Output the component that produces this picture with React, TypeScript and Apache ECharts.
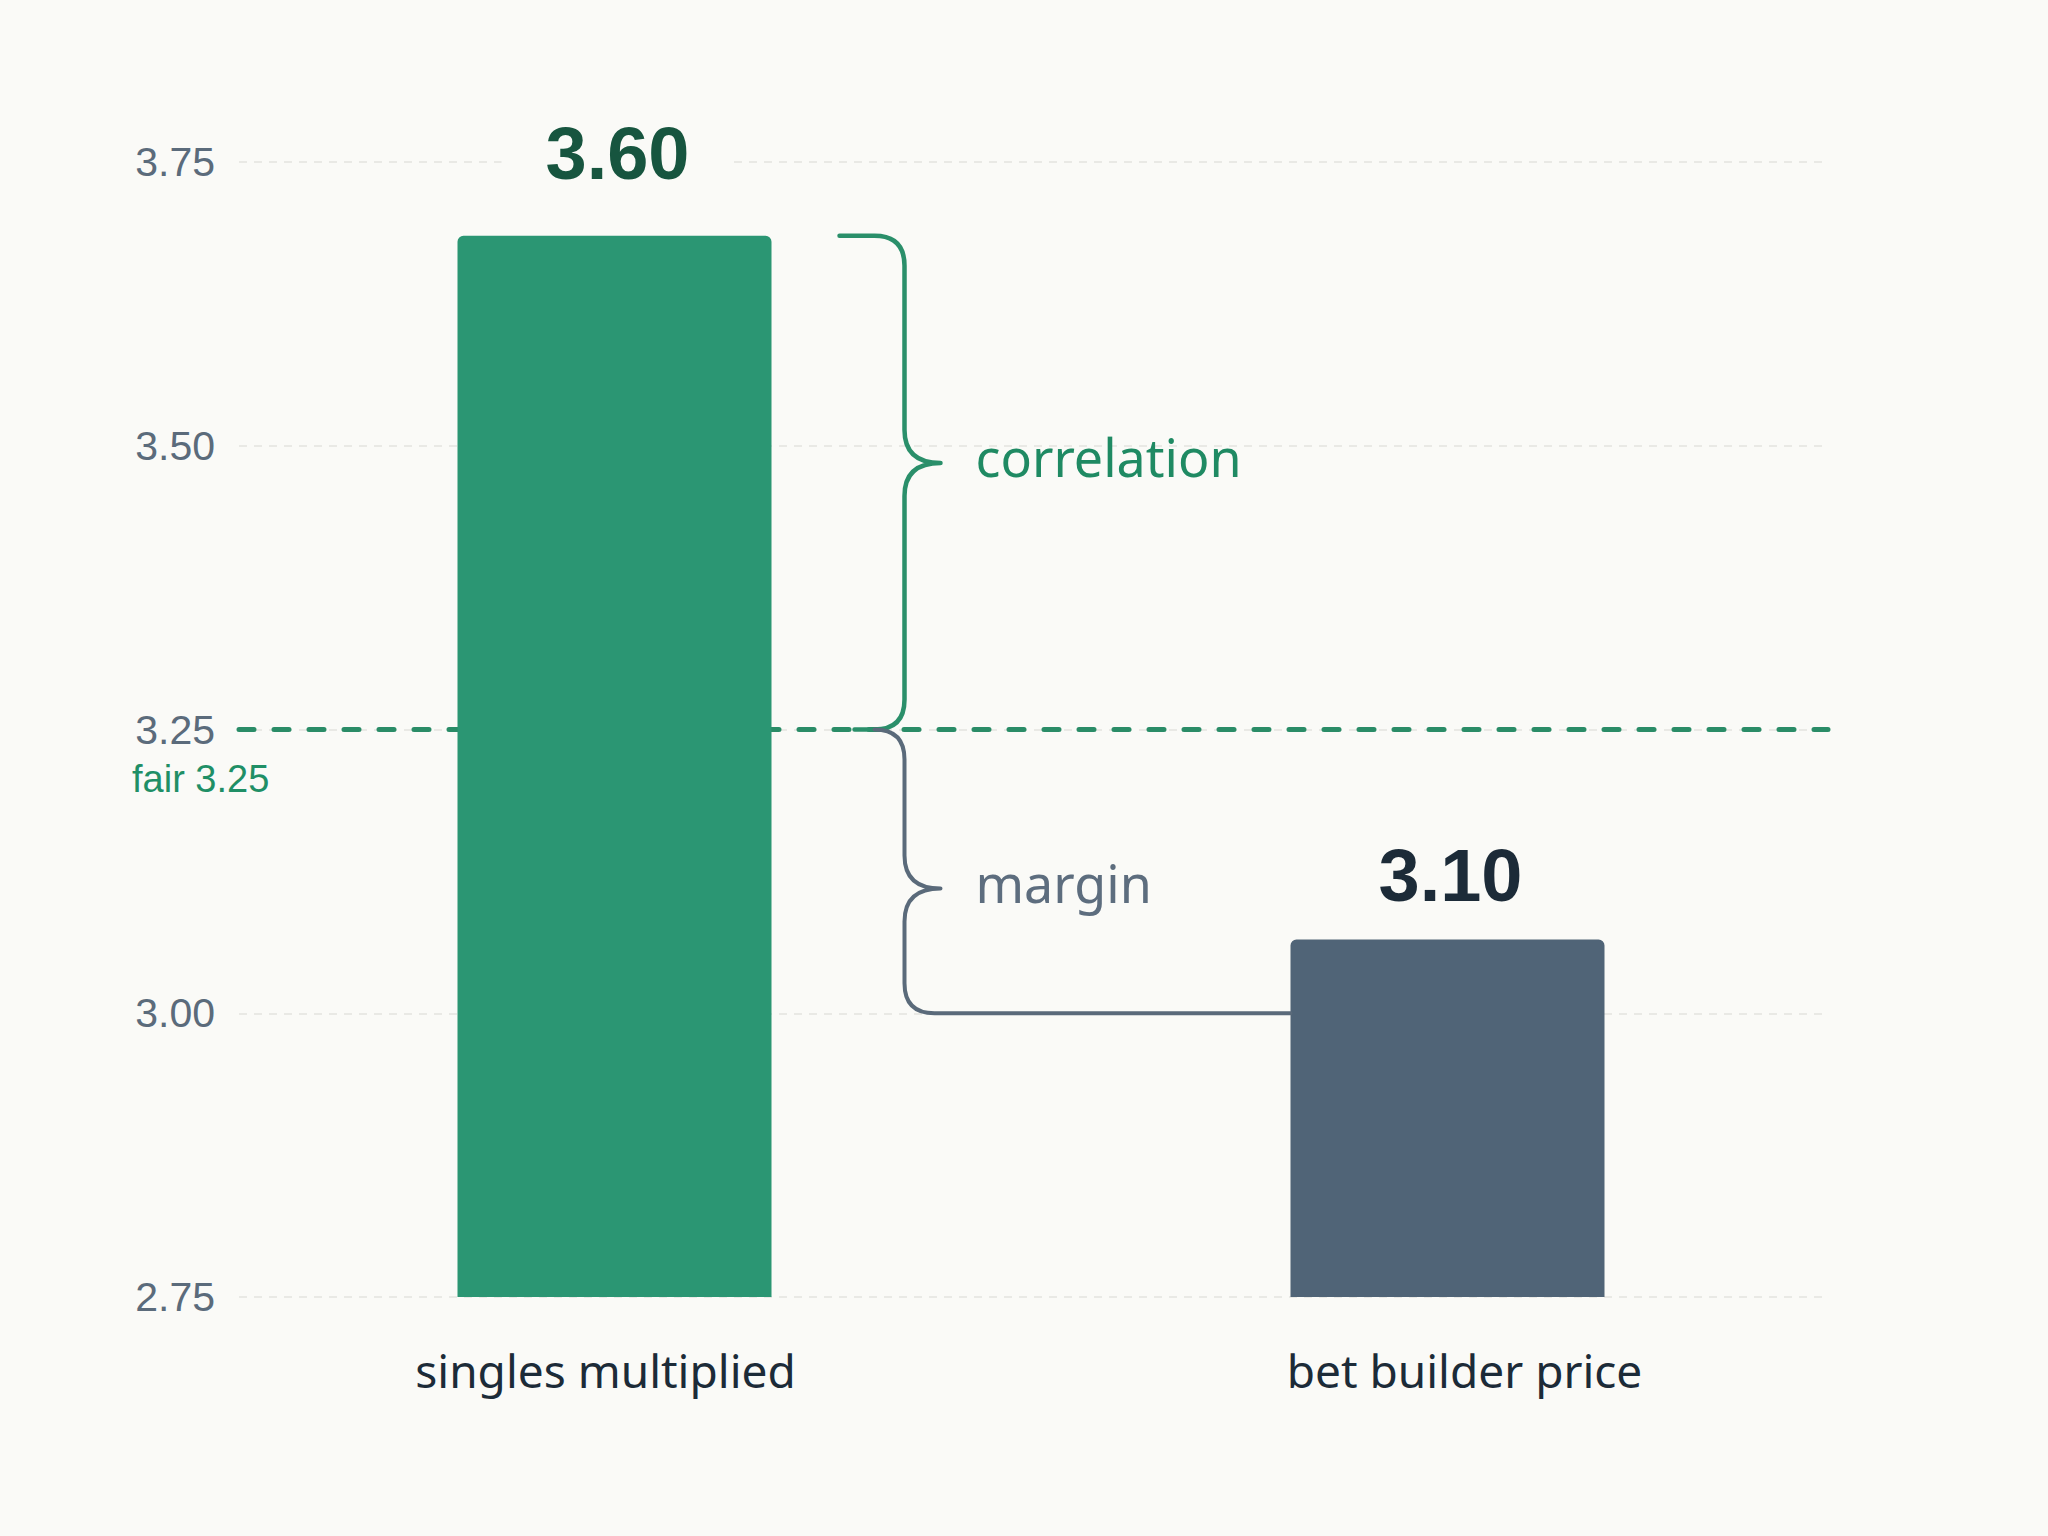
import React, { useEffect, useRef } from 'react';
import * as echarts from 'echarts';

// categories and values
const categories = ['singles multiplied', 'bet builder price'];
// bar heights as drawn (the printed labels differ slightly from the drawn heights)
const barValues = [3.685, 3.065];
const valueLabels = ['3.60', '3.10'];
const barColors = ['#2b9673', '#506477'];
const labelColors = ['#17553f', '#1c2b38'];
const labelDistances = [43, 25];
// small horizontal nudges of the category labels (left, right padding)
const catPadding = [
  [0, 18, 0, 0],
  [0, 0, 0, 34],
];

const yMin = 2.75;
const yMax = 3.75;
const yStep = 0.25;

const fairValue = 3.25;
const fairLabel = 'fair 3.25';
const marginFloor = 3.0;

const BG = '#fafaf7';
const BAR_W = 314;

const App: React.FC = () => {
  const chartRef = useRef<HTMLDivElement>(null);

  useEffect(() => {
    if (!chartRef.current) return;
    const chart = echarts.init(chartRef.current, null, { renderer: 'svg' });

    const option = {
      animation: false,
      backgroundColor: BG,
      grid: [
        { left: 239, right: 220, top: 162, bottom: 239 },
        { left: 198, right: 184, top: 162, bottom: 239 },
      ],
      xAxis: [
        { type: 'category', gridIndex: 0, data: categories, show: false },
        {
          type: 'category',
          gridIndex: 1,
          data: categories.map((c, i) => ({
            value: c,
            textStyle: { padding: catPadding[i] },
          })),
          axisLine: { show: false },
          axisTick: { show: false },
          axisLabel: {
            margin: 50,
            fontSize: 46,
            fontFamily: 'Noto Sans',
            color: '#1c2b38',
          },
        },
      ],
      yAxis: [
        {
          type: 'value',
          gridIndex: 0,
          min: yMin,
          max: yMax,
          interval: yStep,
          axisLine: { show: false },
          axisTick: { show: false },
          axisLabel: {
            margin: 24,
            fontSize: 41,
            fontFamily: 'Liberation Sans',
            color: '#5b6b7b',
            formatter: (v: number) => v.toFixed(2),
          },
          splitLine: {
            lineStyle: { color: '#e3e3df', width: 1.5, type: [8, 7] },
          },
        },
        {
          type: 'value',
          gridIndex: 1,
          min: yMin,
          max: yMax,
          interval: yStep,
          show: false,
          splitLine: { show: false },
        },
      ],
      series: [
        {
          type: 'line',
          xAxisIndex: 0,
          yAxisIndex: 0,
          data: [],
          z: 1,
          markLine: {
            z: 1,
            silent: true,
            symbol: ['none', 'none'],
            label: { show: false },
            lineStyle: { color: '#2a8c67', width: 5, type: [15, 20], cap: 'round' },
            data: [{ yAxis: fairValue }],
          },
        },
        {
          type: 'bar',
          xAxisIndex: 1,
          yAxisIndex: 1,
          z: 3,
          barWidth: BAR_W,
          data: barValues.map((v, i) => ({
            value: v,
            itemStyle: { color: barColors[i], borderRadius: [6, 6, 0, 0] },
            label: {
              show: true,
              position: 'top',
              distance: labelDistances[i],
              formatter: valueLabels[i],
              fontSize: 74,
              fontWeight: 'bold',
              fontFamily: 'Liberation Sans',
              color: labelColors[i],
              backgroundColor: BG,
              padding: [2, 38, 2, 44],
            },
          })),
        },
      ],
    };
    chart.setOption(option);

    const toPx = (cat: string, v: number) =>
      chart.convertToPixel({ gridIndex: 1 }, [cat, v]) as number[];
    const [x0, yBar1] = toPx(categories[0], barValues[0]);
    const [x1] = toPx(categories[1], barValues[1]);
    const yFair = toPx(categories[0], fairValue)[1];
    const yFloor = toPx(categories[0], marginFloor)[1];

    const barRight = x0 + BAR_W / 2;
    const bar2Left = x1 - BAR_W / 2;
    const spine = barRight + 133;
    const tipX = spine + 36;
    const r = 30;
    const t = 33;

    const corrTip = yBar1 + 0.46 * (yFair - yBar1);
    const corrPath =
      `M ${barRight + 68} ${yBar1} L ${spine - r} ${yBar1} ` +
      `Q ${spine} ${yBar1} ${spine} ${yBar1 + r} L ${spine} ${corrTip - t} ` +
      `Q ${spine} ${corrTip} ${tipX} ${corrTip} Q ${spine} ${corrTip} ${spine} ${corrTip + t} ` +
      `L ${spine} ${yFair - r} Q ${spine} ${yFair} ${spine - r} ${yFair} L ${spine - 50} ${yFair}`;

    const marTip = yFair + 0.56 * (yFloor - yFair);
    const marPath =
      `M ${spine - r} ${yFair} Q ${spine} ${yFair} ${spine} ${yFair + r} ` +
      `L ${spine} ${marTip - t} Q ${spine} ${marTip} ${tipX} ${marTip} ` +
      `Q ${spine} ${marTip} ${spine} ${marTip + t} L ${spine} ${yFloor - r} ` +
      `Q ${spine} ${yFloor} ${spine + r} ${yFloor} L ${bar2Left} ${yFloor}`;

    echarts.graphic.registerShape('corrBrace', echarts.graphic.extendPath(corrPath, {}));
    echarts.graphic.registerShape('marginBrace', echarts.graphic.extendPath(marPath, {}));

    chart.setOption({
      graphic: [
        {
          type: 'corrBrace',
          x: 0,
          y: 0,
          z: 10,
          style: { stroke: '#2a8f6a', lineWidth: 4.5, fill: 'none', lineCap: 'round', lineJoin: 'round' },
        },
        {
          type: 'marginBrace',
          x: 0,
          y: 0,
          z: 10,
          style: { stroke: '#5a6a7a', lineWidth: 4, fill: 'none', lineCap: 'round', lineJoin: 'round' },
        },
        {
          type: 'text',
          x: tipX + 35,
          y: corrTip - 6,
          z: 10,
          style: {
            text: 'correlation',
            fontSize: 52,
            fontFamily: 'Noto Sans',
            fill: '#1f8a63',
            align: 'left',
            verticalAlign: 'middle',
          },
        },
        {
          type: 'text',
          x: tipX + 35,
          y: marTip - 6,
          z: 10,
          style: {
            text: 'margin',
            fontSize: 52,
            fontFamily: 'Noto Sans',
            fill: '#5d6d7e',
            align: 'left',
            verticalAlign: 'middle',
          },
        },
        {
          type: 'text',
          x: 132,
          y: yFair + 49,
          z: 10,
          style: {
            text: fairLabel,
            fontSize: 38,
            fontFamily: 'Liberation Sans',
            fill: '#1f8f66',
            align: 'left',
            verticalAlign: 'middle',
          },
        },
      ],
    });

    return () => {
      chart.dispose();
    };
  }, []);

  return (
    <div
      ref={chartRef}
      style={{ position: 'fixed', left: 0, top: 0, width: '100vw', height: '100vh' }}
    />
  );
};

export default App;
